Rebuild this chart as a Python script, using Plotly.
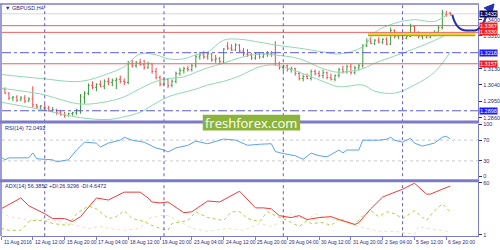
import plotly.graph_objects as go

# ---------------- data ----------------
bars = list(range(1, 115))
opens = [1.3027,1.3017,1.2995,1.2968,1.2973,1.2957,1.2968,1.2952,1.2963,1.2930,
         1.2919,1.2914,1.2909,1.2898,1.2903,1.2887,1.2876,1.2871,1.2882,1.2887,
         1.2898,1.2973,1.2995,1.3038,1.3027,1.3044,1.3033,1.3060,1.3054,1.3065,
         1.3071,1.3060,1.3054,1.3157,1.3146,1.3162,1.3152,1.3135,1.3157,1.3114,
         1.3081,1.3044,1.3071,1.3038,1.3060,1.3103,1.3119,1.3130,1.3125,1.3146,
         1.3195,1.3206,1.3195,1.3211,1.3179,1.3184,1.3168,1.3254,1.3243,1.3233,
         1.3260,1.3227,1.3211,1.3206,1.3189,1.3211,1.3195,1.3211,1.3216,1.3211,
         1.3157,1.3135,1.3146,1.3125,1.3130,1.3103,1.3076,1.3087,1.3076,1.3114,
         1.3103,1.3092,1.3108,1.3081,1.3071,1.3092,1.3125,1.3114,1.3141,1.3108,
         1.3135,1.3146,1.3254,1.3281,1.3270,1.3287,1.3276,1.3292,1.3265,1.3341,
         1.3308,1.3314,1.3297,1.3308,1.3362,1.3324,1.3308,1.3314,1.3303,1.3319,
         1.3330,1.3357,1.3427,1.3438]
highs = [1.3033,1.3027,1.3000,1.2979,1.2984,1.2979,1.2984,1.2973,1.3033,1.2936,
         1.2930,1.2936,1.2925,1.2919,1.2909,1.2903,1.2892,1.2887,1.2892,1.2909,
         1.2990,1.3006,1.3049,1.3060,1.3049,1.3065,1.3071,1.3081,1.3076,1.3081,
         1.3092,1.3076,1.3173,1.3179,1.3173,1.3184,1.3179,1.3168,1.3162,1.3135,
         1.3092,1.3081,1.3076,1.3071,1.3114,1.3135,1.3141,1.3146,1.3157,1.3206,
         1.3222,1.3227,1.3222,1.3216,1.3206,1.3195,1.3243,1.3276,1.3265,1.3270,
         1.3265,1.3243,1.3238,1.3216,1.3222,1.3222,1.3222,1.3227,1.3227,1.3281,
         1.3168,1.3152,1.3152,1.3141,1.3135,1.3114,1.3098,1.3103,1.3125,1.3125,
         1.3119,1.3125,1.3114,1.3103,1.3098,1.3135,1.3146,1.3152,1.3157,1.3146,
         1.3157,1.3265,1.3297,1.3303,1.3292,1.3303,1.3297,1.3303,1.3357,1.3346,
         1.3324,1.3324,1.3319,1.3378,1.3368,1.3335,1.3330,1.3324,1.3330,1.3341,
         1.3368,1.3454,1.3449,1.3443]
lows = [1.3006,1.2990,1.2957,1.2952,1.2946,1.2952,1.2941,1.2946,1.2914,1.2909,
        1.2903,1.2898,1.2892,1.2892,1.2876,1.2871,1.2860,1.2865,1.2871,1.2876,
        1.2882,1.2936,1.2984,1.3017,1.3006,1.3027,1.3017,1.3038,1.3033,1.3017,
        1.3049,1.3038,1.3044,1.3135,1.3135,1.3146,1.3125,1.3130,1.3103,1.3071,
        1.3033,1.3038,1.3022,1.3027,1.3049,1.3092,1.3103,1.3114,1.3114,1.3135,
        1.3179,1.3184,1.3179,1.3168,1.3162,1.3157,1.3157,1.3233,1.3227,1.3227,
        1.3222,1.3200,1.3195,1.3179,1.3179,1.3184,1.3189,1.3195,1.3195,1.3146,
        1.3125,1.3114,1.3114,1.3108,1.3092,1.3065,1.3060,1.3071,1.3065,1.3092,
        1.3081,1.3076,1.3071,1.3065,1.3060,1.3081,1.3103,1.3103,1.3098,1.3098,
        1.3119,1.3135,1.3249,1.3265,1.3260,1.3270,1.3265,1.3260,1.3260,1.3297,
        1.3292,1.3287,1.3292,1.3303,1.3314,1.3297,1.3292,1.3297,1.3297,1.3308,
        1.3319,1.3346,1.3416,1.3422]
closes = [1.3017,1.2995,1.2968,1.2973,1.2957,1.2968,1.2952,1.2963,1.2930,1.2919,
          1.2925,1.2914,1.2898,1.2903,1.2887,1.2876,1.2871,1.2882,1.2887,1.2903,
          1.2979,1.2995,1.3038,1.3027,1.3044,1.3033,1.3060,1.3054,1.3065,1.3071,
          1.3060,1.3054,1.3157,1.3146,1.3162,1.3152,1.3135,1.3157,1.3114,1.3081,
          1.3044,1.3071,1.3038,1.3060,1.3103,1.3119,1.3130,1.3125,1.3146,1.3195,
          1.3206,1.3195,1.3211,1.3179,1.3184,1.3168,1.3238,1.3243,1.3233,1.3260,
          1.3227,1.3211,1.3206,1.3189,1.3211,1.3195,1.3211,1.3216,1.3211,1.3157,
          1.3135,1.3146,1.3125,1.3130,1.3103,1.3076,1.3087,1.3076,1.3114,1.3103,
          1.3092,1.3108,1.3081,1.3071,1.3092,1.3125,1.3114,1.3141,1.3108,1.3135,
          1.3146,1.3254,1.3281,1.3270,1.3287,1.3276,1.3292,1.3265,1.3341,1.3308,
          1.3314,1.3297,1.3308,1.3362,1.3324,1.3308,1.3314,1.3303,1.3319,1.3330,
          1.3357,1.3438,1.3427,1.3432]

bb_bar = [1, 11, 21, 28, 32, 36, 40, 43, 47, 50, 53, 57, 61, 66, 70, 76, 82, 86, 92, 95, 100, 105, 110, 114]
bb_upper = [1.3098,1.3076,1.3060,1.3103,1.3141,1.3211,1.3206,1.3184,1.3184,1.3206,1.3222,1.3287,
            1.3292,1.3276,1.3260,1.3243,1.3222,1.3211,1.3250,1.3330,1.3380,1.3400,1.3390,1.3440]
bb_mid = [1.3022,1.2990,1.2935,1.2950,1.2975,1.3020,1.3060,1.3075,1.3085,1.3110,1.3135,1.3160,
          1.3190,1.3210,1.3205,1.3185,1.3130,1.3110,1.3130,1.3160,1.3200,1.3240,1.3285,1.3330]
bb_lower = [1.2945,1.2905,1.2860,1.2850,1.2865,1.2890,1.2940,1.2975,1.3000,1.3017,1.3040,1.3060,
            1.3090,1.3140,1.3150,1.3110,1.3060,1.3030,1.3040,1.3006,1.2995,1.3040,1.3110,1.3222]

rsi_bar = [1,2,3,8,9,10,14,15,18,20,22,25,26,28,31,32,34,37,40,42,43,45,48,50,53,57,60,63,66,69,
           70,72,75,77,79,81,83,86,87,88,91,92,96,98,99,100,102,104,105,107,110,112,113,114]
rsi_val = [37.7,32.1,35.8,35.8,45.3,34.0,32.1,28.3,32.1,50.9,66.0,64.2,56.6,64.2,69.8,75.5,69.8,66.0,54.7,50.9,
           47.2,55.0,60.0,68.0,63.0,72.0,70.0,60.0,62.0,63.0,48.0,44.0,40.0,33.0,45.0,40.0,37.7,50.9,45.3,50.9,
           50.9,69.8,69.8,71.7,75.5,69.8,66.0,73.6,64.2,58.5,64.2,75.5,77.4,72.05]

adx_bar = [1,6,8,11,12,14,17,19,21,25,28,32,36,38,39,41,43,47,49,53,56,61,65,67,69,71,74,76,78,81,
           84,86,90,91,94,97,102,105,108,109,114]
adx_val = [30.5,42.8,33.9,27.2,25.0,19.5,19.5,16.1,21.7,42.8,40.5,49.4,49.4,42.8,38.3,37.2,38.3,26.1,27.2,39.4,
           38.3,50.5,31.6,31.6,30.5,22.8,20.6,22.8,18.4,20.6,21.7,18.4,12.8,15.0,30.5,43.9,52.7,59.5,47.2,47.2,56.39]

pdi_bar = [1,3,6,8,9,12,14,18,20,21,23,25,27,28,30,32,34,37,39,41,43,44,48,50,53,57,59,61,63,66,
           68,70,73,76,78,79,82,84,86,88,90,92,94,96,98,100,102,105,108,110,112,114]
pdi_val = [8.4,6.2,6.2,16.1,17.3,17.3,13.9,11.7,25.0,28.3,33.9,30.5,22.8,19.5,21.7,28.3,19.5,16.1,11.7,8.4,
           6.2,13.9,17.3,27.2,20.6,17.3,27.2,27.2,19.5,16.1,27.2,22.8,17.3,10.6,17.3,13.9,15.0,11.7,19.5,16.1,
           12.8,22.8,28.3,21.7,27.2,25.0,19.5,28.3,17.3,28.3,36.1,26.93]

mdi_bar = [1,3,6,8,12,14,18,21,23,26,28,32,36,38,41,43,46,49,53,58,62,66,69,72,74,78,80,83,86,90,
           93,96,100,105,106,108,114]
mdi_val = [27.2,21.7,19.5,17.3,19.5,17.3,13.9,10.6,8.4,10.6,8.4,6.2,8.4,19.5,23.0,22.8,16.1,8.4,5.1,8.4,
           6.2,13.9,10.6,17.3,25.0,17.3,25.0,19.5,17.3,11.7,8.4,5.1,5.1,1.5,10.6,8.4,4.65]

red_levels = [1.3367, 1.3330, 1.3157]
blue_levels = [1.3218, 1.2898]
bid_price = 1.3432
support_zone = [1.3316, 1.3328]
support_start_bar = 93.3

price_ticks = [1.2860, 1.2950, 1.3040, 1.3130, 1.3310, 1.3400]
week_bars = [12, 42, 72, 102]
time_bars = [1.25, 9, 17, 25, 33, 41, 49, 57, 65, 73, 81, 89, 97, 105, 113]
time_labels = ["11 Aug 2016", "12 Aug 12:00", "15 Aug 20:00", "17 Aug 04:00", "18 Aug 12:00",
               "19 Aug 20:00", "23 Aug 04:00", "24 Aug 12:00", "25 Aug 20:00", "29 Aug 04:00",
               "30 Aug 12:00", "31 Aug 20:00", "2 Sep 04:00", "5 Sep 12:00", "6 Sep 20:00"]

# ---------------- layout helpers ----------------
W, H = 500, 250
def px(x):
    return x / W
def py(y):
    return 1 - y / H

NAVY = "#2b2b7a"
FRAME = "#7b7bc8"
FONT = "Liberation Sans"

fig = go.Figure()

bb_style = dict(color="#8fd9b0", width=1)
for arr in (bb_upper, bb_mid, bb_lower):
    fig.add_trace(go.Scatter(x=bb_bar, y=arr, mode="lines", line=dict(shape="spline", **bb_style),
                             xaxis="x", yaxis="y", hoverinfo="skip"))

fig.add_trace(go.Ohlc(x=bars, open=opens, high=highs, low=lows, close=closes,
                      increasing=dict(line=dict(color="#3c9a3c", width=1)),
                      decreasing=dict(line=dict(color="#f04848", width=1)),
                      tickwidth=0.3, xaxis="x", yaxis="y"))

fig.add_trace(go.Scatter(x=rsi_bar, y=rsi_val, mode="lines", line=dict(color="#5aa2f0", width=1),
                         xaxis="x", yaxis="y2"))
fig.add_trace(go.Scatter(x=mdi_bar, y=mdi_val, mode="lines", line=dict(color="#f3dfb8", width=1, dash="dot"),
                         xaxis="x", yaxis="y3"))
fig.add_trace(go.Scatter(x=pdi_bar, y=pdi_val, mode="lines", line=dict(color="#a8d048", width=1, dash="dot"),
                         xaxis="x", yaxis="y3"))
fig.add_trace(go.Scatter(x=adx_bar, y=adx_val, mode="lines", line=dict(color="#f03a3a", width=1),
                         xaxis="x", yaxis="y3"))

tickfont = dict(family=FONT, size=5.5, color=NAVY)
x0p, x1p = px(2), px(481)

fig.update_layout(
    width=W, height=H, margin=dict(l=0, r=0, t=0, b=0),
    paper_bgcolor="white", plot_bgcolor="white", showlegend=False,
    xaxis=dict(domain=[x0p, x1p], range=[1.25, 121.0], anchor="y3", showgrid=False, zeroline=False,
               tickvals=time_bars, showticklabels=False, ticks="outside", ticklen=3, tickcolor=FRAME,
               showline=True, linecolor=FRAME, linewidth=1, rangeslider=dict(visible=False)),
    yaxis=dict(domain=[py(121), py(2)], range=[1.28384, 1.3481], side="right", anchor="x",
               showgrid=False, zeroline=False, tickvals=price_ticks, tickformat=".4f",
               ticks="outside", ticklen=3, tickcolor=NAVY, tickfont=tickfont,
               showline=True, linecolor=FRAME, linewidth=1),
    yaxis2=dict(domain=[py(180), py(123)], range=[-5.66, 101.9], side="right", anchor="x",
                showgrid=False, zeroline=False, tickvals=[0, 30, 70, 100],
                ticks="outside", ticklen=3, tickcolor=NAVY, tickfont=tickfont,
                showline=True, linecolor=FRAME, linewidth=1),
    yaxis3=dict(domain=[py(238), py(183)], range=[-0.5, 60.5], side="right", anchor="x",
                showgrid=False, zeroline=False, tickvals=[1, 60],
                ticks="outside", ticklen=3, tickcolor=NAVY, tickfont=tickfont,
                showline=True, linecolor=FRAME, linewidth=1),
)

shapes = []
for lv in (30, 70):
    shapes.append(dict(type="line", xref="paper", yref="y2", x0=x0p, x1=x1p, y0=lv, y1=lv,
                       line=dict(color="#c8c8c8", width=1, dash="dot"), layer="below"))
shapes.append(dict(type="line", xref="paper", yref="y", x0=x0p, x1=x1p, y0=bid_price, y1=bid_price,
                   line=dict(color="#d8d8d8", width=1), layer="below"))
shapes.append(dict(type="rect", xref="x", yref="y", x0=support_start_bar, x1=120.3,
                   y0=support_zone[0], y1=support_zone[1], fillcolor="#f2e61c", line=dict(width=0)))
shapes.append(dict(type="line", xref="x", yref="y", x0=support_start_bar, x1=120.3,
                   y0=support_zone[0] - 0.0003, y1=support_zone[0] - 0.0003,
                   line=dict(color="#a9a23a", width=1.5)))
for lv in red_levels:
    shapes.append(dict(type="line", xref="paper", yref="y", x0=x0p, x1=x1p, y0=lv, y1=lv,
                       line=dict(color="#f06060", width=1)))
for lv in blue_levels:
    shapes.append(dict(type="line", xref="paper", yref="y", x0=x0p, x1=x1p, y0=lv, y1=lv,
                       line=dict(color="#5a5ad8", width=1, dash="dashdot")))
for wb in week_bars:
    shapes.append(dict(type="line", xref="x", yref="paper", x0=wb, x1=wb, y0=py(238), y1=py(2),
                       line=dict(color="#5c5cc0", width=1, dash="dot")))
shapes.append(dict(type="line", xref="paper", yref="paper", x0=0, x1=px(482), y0=py(1), y1=py(1),
                   line=dict(color=FRAME, width=1.5)))
shapes.append(dict(type="line", xref="paper", yref="paper", x0=px(1), x1=px(1), y0=py(238), y1=py(1),
                   line=dict(color=FRAME, width=1.5)))
for sy in (121.5, 181.5):
    shapes.append(dict(type="line", xref="paper", yref="paper", x0=0, x1=px(482), y0=py(sy), y1=py(sy),
                       line=dict(color=FRAME, width=3)))
shapes.append(dict(type="rect", xref="paper", yref="paper", x0=px(204), x1=px(302), y0=py(130), y1=py(114),
                   fillcolor="#8cb43c", line=dict(width=0), layer="above"))
def P(x, y):
    return f"{px(x):.4f},{py(y):.4f}"
path = (f"M {P(455,12)} C {P(458,24)} {P(463,29)} {P(471,28)} L {P(478,28)} "
        f"C {P(485,27)} {P(489,14)} {P(492,6)}")
shapes.append(dict(type="path", xref="paper", yref="paper", path=path,
                   line=dict(color="#2030b0", width=2)))
shapes.append(dict(type="path", xref="paper", yref="paper",
                   path=f"M {P(497,1)} L {P(487,5)} L {P(495,10)} Z",
                   fillcolor="#2030b0", line=dict(color="#2030b0", width=1)))
fig.update_layout(shapes=shapes)

ann = []
def label(price, bg):
    ann.append(dict(xref="paper", yref="y", x=px(482), y=price, xanchor="left", yanchor="middle",
                    text=f"{price:.4f}", showarrow=False, bgcolor=bg, borderpad=0,
                    font=dict(family=FONT, size=5.5, color="white")))
label(bid_price, "#0c0c50")
for lv in red_levels:
    label(lv, "#f02020")
for lv in blue_levels:
    label(lv, "#1a1aff")

small = dict(family=FONT, size=5.5, color=NAVY)
ann.append(dict(xref="paper", yref="paper", x=px(3), y=py(5.5), xanchor="left", yanchor="middle",
                text="▼ GBPUSD,H4", showarrow=False, font=small))
ann.append(dict(xref="paper", yref="paper", x=px(3), y=py(127.5), xanchor="left", yanchor="middle",
                text="RSI(14) 72.0491", showarrow=False, font=small))
ann.append(dict(xref="paper", yref="paper", x=px(3), y=py(186.5), xanchor="left", yanchor="middle",
                text="ADX(14) 56.3852 +DI:26.9296 -DI:4.6472", showarrow=False, font=small))
for tb, tl in zip(time_bars, time_labels):
    ann.append(dict(xref="x", yref="paper", x=tb, y=py(243.5), xanchor="left", yanchor="middle",
                    text=tl, showarrow=False, font=dict(family=FONT, size=5, color=NAVY)))
ann.append(dict(xref="paper", yref="paper", x=px(253), y=py(122), xanchor="center", yanchor="middle",
                text="freshforex.com", showarrow=False,
                font=dict(family="Open Sans", size=13, color="white")))
fig.update_layout(annotations=ann)

fig.write_html("out.html")
